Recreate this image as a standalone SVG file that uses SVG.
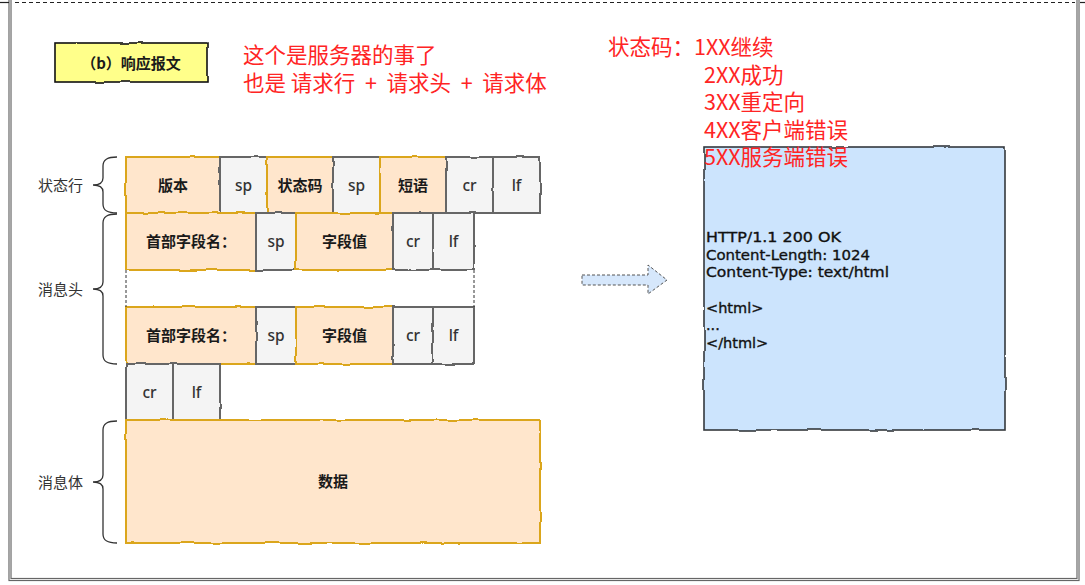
<svg xmlns="http://www.w3.org/2000/svg" width="1085" height="585" viewBox="0 0 1085 585">
  <defs>
    <!-- slight hand-drawn wobble for box outlines -->
    <filter id="rough" x="-5%" y="-5%" width="110%" height="110%">
      <feTurbulence type="fractalNoise" baseFrequency="0.045" numOctaves="2" seed="7" result="noise"/>
      <feDisplacementMap in="SourceGraphic" in2="noise" scale="2.6" xChannelSelector="R" yChannelSelector="G"/>
    </filter>
  </defs>
  <style>
    .frame { fill: none; stroke: #666; stroke-width: 3.2; }
    .frame-in { fill: none; stroke: #e6e6e6; stroke-width: 1; }
    .field { fill: #ffe6cc; stroke: #dba61e; stroke-width: 2; filter: url(#rough); }
    .ctrl { fill: #f4f4f4; stroke: #666; stroke-width: 2; filter: url(#rough); }
    .title-box { fill: #ffff8a; stroke: #111; stroke-width: 1.6; filter: url(#rough); }
    .doc { fill: #cce4fd; stroke: #33383d; stroke-width: 1.6; filter: url(#rough); }
    .t { font-family: "Noto Sans CJK SC", "Noto Sans", sans-serif; font-size: 15px; font-weight: bold; fill: #1a1a1a; text-anchor: middle; }
    .c { font-family: "Noto Sans", "Noto Sans CJK SC", sans-serif; font-size: 15.5px; font-weight: 500; fill: #333; text-anchor: middle; }
    .side { font-family: "Noto Sans CJK SC", sans-serif; font-size: 15px; fill: #333; text-anchor: end; }
    .brace { fill: none; stroke: #333; stroke-width: 1.3; }
    .note { font-family: "Noto Sans CJK SC", sans-serif; font-size: 21.5px; fill: #ff2424; }
    .mono { font-family: "DejaVu Sans", "Noto Sans", sans-serif; font-size: 14.5px; fill: #111; stroke: #111; stroke-width: 0.35; }
    .dash { fill: none; stroke: #333; stroke-width: 1; stroke-dasharray: 3 2; }
  </style>

  <rect width="1085" height="585" fill="#ffffff"/>

  <!-- page frame -->
  <g id="frame">
    <rect class="frame" x="10" y="-10" width="1068" height="589.5"/>
    <rect class="frame-in" x="10" y="-10" width="1068" height="589.5"/>
    <line x1="0" y1="2.5" x2="9" y2="2.5" stroke="#222" stroke-width="1.2"/>
    <line x1="15" y1="2.5" x2="1075" y2="2.5" stroke="#222" stroke-width="1.2" stroke-dasharray="4 3"/>
    <line x1="1080" y1="2.5" x2="1085" y2="2.5" stroke="#222" stroke-width="1.2"/>
  </g>

  <!-- title tag -->
  <g id="title">
    <rect class="title-box" x="55" y="43" width="152" height="39"/>
    <text class="t" x="131" y="69">（b）响应报文</text>
  </g>

  <!-- red notes -->
  <g id="note-top">
    <text class="note" x="243" y="63">这个是服务器的事了</text>
    <text class="note" x="243" y="91" xml:space="preserve">也是 请求行  +  请求头  +  请求体</text>
  </g>

  <!-- status line -->
  <g id="status-line">
    <rect class="field" x="126" y="157" width="94" height="56"/>
    <rect class="ctrl" x="220" y="157" width="47" height="56"/>
    <rect class="field" x="267" y="157" width="66" height="56"/>
    <rect class="ctrl" x="333" y="157" width="47" height="56"/>
    <rect class="field" x="380" y="157" width="66" height="56"/>
    <rect class="ctrl" x="446" y="157" width="47" height="56"/>
    <rect class="ctrl" x="493" y="157" width="47" height="56"/>
    <text class="t" x="173" y="191">版本</text>
    <text class="c" x="243.5" y="191">sp</text>
    <text class="t" x="300" y="191">状态码</text>
    <text class="c" x="356.5" y="191">sp</text>
    <text class="t" x="413" y="191">短语</text>
    <text class="c" x="469.5" y="191">cr</text>
    <text class="c" x="516.5" y="191">lf</text>
  </g>

  <!-- first header line -->
  <g id="header-1">
    <rect class="field" x="126" y="213" width="130" height="57"/>
    <rect class="ctrl" x="256" y="213" width="40" height="57"/>
    <rect class="field" x="296" y="213" width="97" height="57"/>
    <rect class="ctrl" x="393" y="213" width="40" height="57"/>
    <rect class="ctrl" x="433" y="213" width="41" height="57"/>
    <text class="t" x="191" y="247">首部字段名：</text>
    <text class="c" x="276" y="247">sp</text>
    <text class="t" x="344.5" y="247">字段值</text>
    <text class="c" x="413" y="247">cr</text>
    <text class="c" x="453.5" y="247">lf</text>
  </g>

  <!-- last header line -->
  <g id="header-n">
    <rect class="field" x="126" y="307" width="130" height="57"/>
    <rect class="ctrl" x="256" y="307" width="40" height="57"/>
    <rect class="field" x="296" y="307" width="97" height="57"/>
    <rect class="ctrl" x="393" y="307" width="40" height="57"/>
    <rect class="ctrl" x="433" y="307" width="41" height="57"/>
    <text class="t" x="191" y="341">首部字段名：</text>
    <text class="c" x="276" y="341">sp</text>
    <text class="t" x="344.5" y="341">字段值</text>
    <text class="c" x="413" y="341">cr</text>
    <text class="c" x="453.5" y="341">lf</text>
  </g>

  <!-- blank line -->
  <g id="blank-line">
    <rect class="ctrl" x="126" y="364" width="47" height="56"/>
    <rect class="ctrl" x="173" y="364" width="47" height="56"/>
    <text class="c" x="149.5" y="398">cr</text>
    <text class="c" x="196.5" y="398">lf</text>
  </g>

  <!-- body -->
  <g id="body">
    <rect class="field" x="126" y="420" width="414" height="123"/>
    <text class="t" x="333" y="487">数据</text>
  </g>

  <!-- braces with section names -->
  <g id="sections">
    <path class="brace" d="M117,157 C108,157 103,159 103,166 L103,178 C103,183 99,185 93,185 C99,185 103,187 103,192 L103,204 C103,211 108,213 117,213"/>
    <text class="side" x="83" y="190.5">状态行</text>
    <path class="brace" d="M117,214 C108,214 103,216 103,223 L103,282 C103,287 99,289 93,289 C99,289 103,291 103,296 L103,355 C103,362 108,364 117,364"/>
    <text class="side" x="83" y="294.5">消息头</text>
    <path class="brace" d="M117,421 C108,421 103,423 103,430 L103,475 C103,480 99,482 93,482 C99,482 103,484 103,489 L103,534 C103,541 108,543 117,543"/>
    <text class="side" x="83" y="487.5">消息体</text>
  </g>

  <!-- response document -->
  <g id="response">
    <rect class="doc" x="704" y="147" width="301" height="283"/>
    <text class="mono" x="706" y="242" textLength="135" lengthAdjust="spacingAndGlyphs">HTTP/1.1 200 OK</text>
    <text class="mono" x="706" y="259.5" textLength="164" lengthAdjust="spacingAndGlyphs">Content-Length: 1024</text>
    <text class="mono" x="706" y="277" textLength="183" lengthAdjust="spacingAndGlyphs">Content-Type: text/html</text>
    <text class="mono" x="706" y="312.5">&lt;html&gt;</text>
    <text class="mono" x="706" y="330">...</text>
    <text class="mono" x="706" y="347.5">&lt;/html&gt;</text>
  </g>

  <!-- status code notes -->
  <g id="note-codes">
    <text class="note" x="608" y="55">状态码：1XX继续</text>
    <text class="note" x="704" y="82.5">2XX成功</text>
    <text class="note" x="704" y="110">3XX重定向</text>
    <text class="note" x="704" y="137.5">4XX客户端错误</text>
    <text class="note" x="704" y="165">5XX服务端错误</text>
  </g>

  <!-- connectors -->
  <g id="connectors">
    <line class="dash" x1="126" y1="270" x2="126" y2="307"/>
    <line class="dash" x1="474" y1="270" x2="474" y2="307"/>
    <polygon points="582,275 648,275 648,265 667,280 648,294 648,285 582,285" fill="#d6e7fb" stroke="#555" stroke-width="1" stroke-dasharray="3 2"/>
  </g>
</svg>
